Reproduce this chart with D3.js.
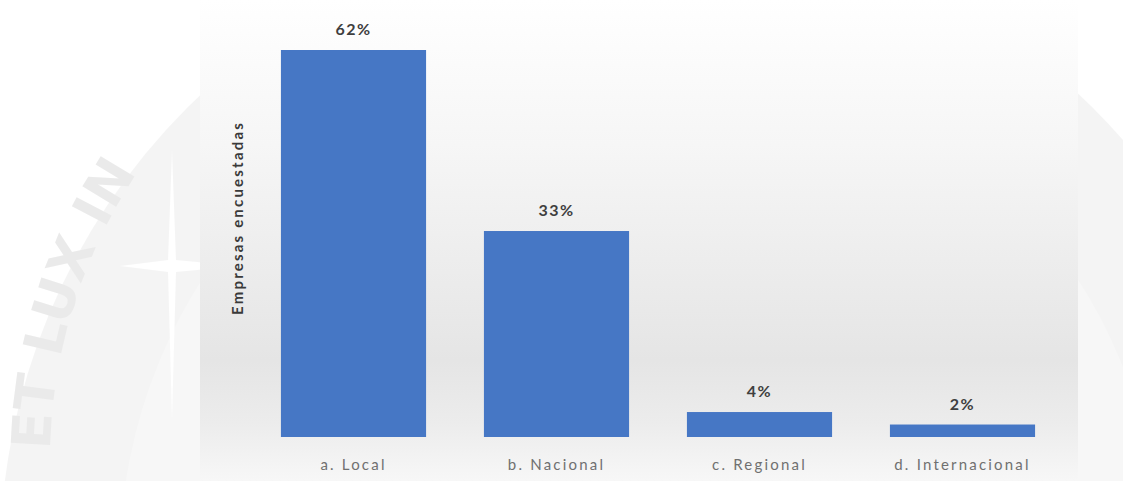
<!DOCTYPE html>
<html>
<head>
<meta charset="utf-8">
<script src="https://d3js.org/d3.v7.min.js"></script>
<style>
  body { margin: 0; background: #fff; }
  svg { display: block; }
  .val { font-family: Lato, "Open Sans", sans-serif; font-weight: bold; font-size: 16px; fill: #3f3f3f; letter-spacing: 1.5px; }
  .cat { font-family: Lato, "Open Sans", sans-serif; font-size: 15px; fill: #707070; letter-spacing: 2.2px; }
  .ytitle { font-family: Lato, "Open Sans", sans-serif; font-weight: bold; font-size: 15px; fill: #3a3a3a; letter-spacing: 2.2px; }
</style>
</head>
<body>
<svg width="1123" height="481"></svg>
<script>
// data
var categories = ["a. Local", "b. Nacional", "c. Regional", "d. Internacional"];
var values = [62, 33, 4, 2];
var yTitle = "Empresas encuestadas";

var svg = d3.select("svg"),
    width = 1123,
    height = 481;

var defs = svg.append("defs");
var grad = defs.append("linearGradient")
  .attr("id", "bg").attr("x1", 0).attr("y1", 0).attr("x2", 0).attr("y2", 1);
grad.append("stop").attr("offset", "0%").attr("stop-color", "#ffffff");
grad.append("stop").attr("offset", "30%").attr("stop-color", "#f6f6f6");
grad.append("stop").attr("offset", "75%").attr("stop-color", "#e5e5e5");
grad.append("stop").attr("offset", "88%").attr("stop-color", "#ececec");
grad.append("stop").attr("offset", "100%").attr("stop-color", "#f7f7f7");

// faint seal watermark behind the chart
var seal = svg.append("g").attr("opacity", 0.55);
seal.append("circle")
  .attr("cx", 640).attr("cy", 560).attr("r", 640)
  .attr("fill", "#ececec");
seal.append("circle")
  .attr("cx", 640).attr("cy", 560).attr("r", 520)
  .attr("fill", "#f2f2f2");
seal.append("path")
  .attr("id", "arc1")
  .attr("d", "M 50 450 A 520 520 0 0 1 196 100")
  .attr("fill", "none");
seal.append("text")
  .style("font-family", "DejaVu Sans, sans-serif")
  .style("font-weight", "bold")
  .style("font-size", "54px")
  .style("fill", "#dadada")
  .append("textPath")
  .attr("href", "#arc1")
  .text("ET LUX IN");
seal.append("path")
  .attr("d", "M172 150 L176 260 L240 266 L176 272 L172 420 L168 272 L120 266 L168 260 Z")
  .attr("fill", "#ffffff");

// chart area
svg.append("rect")
  .attr("x", 200).attr("y", 0)
  .attr("width", 878).attr("height", height)
  .attr("fill", "url(#bg)");

var x = d3.scaleBand()
  .domain(categories)
  .range([252, 1064])
  .paddingInner(0.285)
  .paddingOuter(0.1425);

var y = d3.scaleLinear()
  .domain([0, 62])
  .range([437, 50]);

var g = svg.append("g");

g.selectAll("rect.bar")
  .data(values)
  .enter().append("rect")
  .attr("class", "bar")
  .attr("x", function(d, i) { return x(categories[i]); })
  .attr("y", function(d) { return y(d); })
  .attr("width", x.bandwidth())
  .attr("height", function(d) { return y(0) - y(d); })
  .attr("fill", "#4677c5");

g.selectAll("text.val")
  .data(values)
  .enter().append("text")
  .attr("class", "val")
  .attr("x", function(d, i) { return x(categories[i]) + x.bandwidth() / 2; })
  .attr("y", function(d) { return y(d) - 15; })
  .attr("text-anchor", "middle")
  .text(function(d) { return d + "%"; });

var xAxis = svg.append("g")
  .attr("transform", "translate(0,437)")
  .call(d3.axisBottom(x).tickSize(0).tickPadding(22));
xAxis.select(".domain").remove();
xAxis.selectAll("text").attr("class", "cat").attr("fill", null);

svg.append("text")
  .attr("class", "ytitle")
  .attr("transform", "translate(243,218) rotate(-90)")
  .attr("text-anchor", "middle")
  .text(yTitle);
</script>
</body>
</html>
